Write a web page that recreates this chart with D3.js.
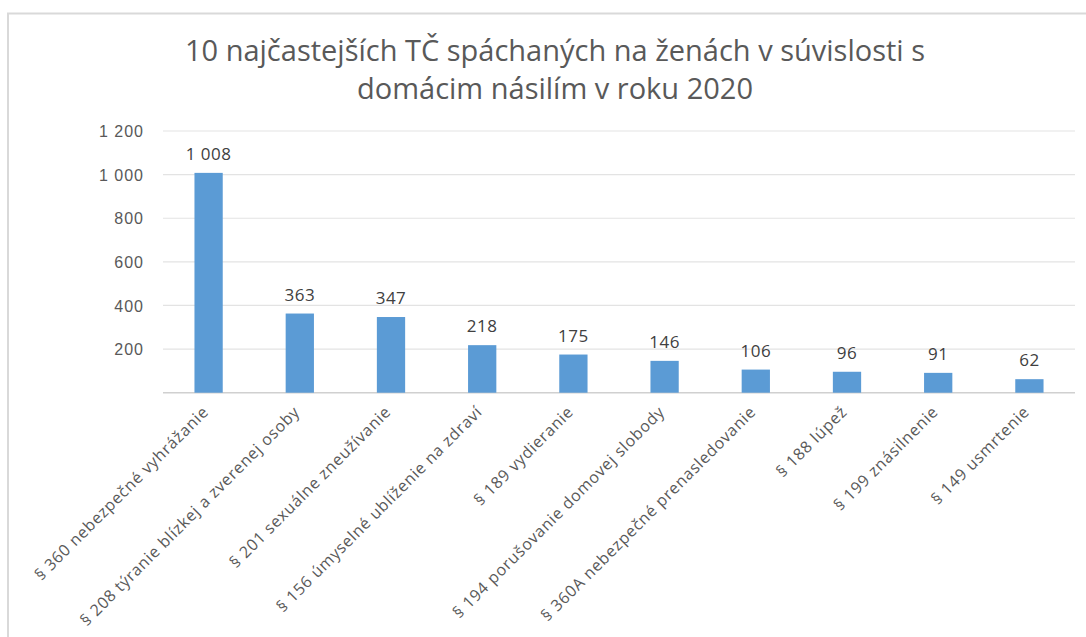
<!DOCTYPE html>
<html><head><meta charset="utf-8">
<script src="https://cdn.jsdelivr.net/npm/d3@7"></script>
<style>
body{margin:0;background:#fff;}
svg{display:block;font-family:"Open Sans","Liberation Sans",sans-serif;}
</style></head>
<body><svg id="c" width="1086" height="637"></svg>
<script>
const categories = ["§ 360 nebezpečné vyhrážanie","§ 208 týranie blízkej a zverenej osoby","§ 201 sexuálne zneužívanie","§ 156 úmyselné ublíženie na zdraví","§ 189 vydieranie","§ 194 porušovanie domovej slobody","§ 360A nebezpečné prenasledovanie","§ 188 lúpež","§ 199 znásilnenie","§ 149 usmrtenie"];
const values = [1008,363,347,218,175,146,106,96,91,62];
const yTicks = [0,200,400,600,800,1000,1200];
const titleLines = ["10 najčastejších TČ spáchaných na ženách v súvislosti s","domácim násilím v roku 2020"];

const svg = d3.select("#c");
const fmt = v => d3.format(",")(v).replace(/,/g," ");

// border
svg.append("path").attr("d","M8,637 L8,13.5 L1086,13.5").attr("fill","none").attr("stroke","#d9d9d9").attr("stroke-width",2);

const x = d3.scaleBand().domain(categories).range([163,1075]).paddingInner(0.69).paddingOuter(0.345);
const y = d3.scaleLinear().domain([0,1200]).range([392.7,131]);

// gridlines
svg.append("g").selectAll("line").data(yTicks).join("line")
  .attr("x1",163).attr("x2",1075).attr("y1",d=>y(d)).attr("y2",d=>y(d))
  .attr("stroke",d=>d===0?"#d0d0d0":"#e3e3e3").attr("stroke-width",d=>d===0?1.5:1.2);

// y axis labels
const yAxis = d3.axisLeft(y).tickValues(yTicks.filter(d=>d>0)).tickFormat(fmt).tickSize(0).tickPadding(0);
const ga = svg.append("g").attr("transform","translate(144,0)").call(yAxis);
ga.select(".domain").remove();
ga.selectAll("text").attr("fill","#595959").attr("font-size","16px").attr("letter-spacing","1px").attr("dy","0.35em");

// bars
svg.append("g").selectAll("rect").data(values).join("rect")
  .attr("x",(d,i)=>x(categories[i])).attr("width",x.bandwidth())
  .attr("y",d=>y(d)).attr("height",d=>y(0)-y(d)).attr("fill","#5b9bd5");

// value labels
svg.append("g").selectAll("text").data(values).join("text")
  .attr("x",(d,i)=>x(categories[i])+x.bandwidth()/2).attr("y",d=>y(d)-13)
  .attr("text-anchor","middle").attr("font-size","17px").attr("letter-spacing","0.5px").attr("fill","#404040").text(fmt);

// category labels
svg.append("g").selectAll("text").data(categories).join("text")
  .attr("transform",d=>`translate(${x(d)+x.bandwidth()/2-3},${409}) rotate(-45)`)
  .attr("text-anchor","end").attr("dy","0.35em").attr("font-size","16px").attr("letter-spacing","0.7px").attr("fill","#595959").text(d=>d);

// title
svg.append("g").selectAll("text").data(titleLines).join("text")
  .attr("x",555).attr("y",(d,i)=>61+i*38).attr("text-anchor","middle")
  .attr("font-size","29px").attr("fill","#595959").text(d=>d);
</script></body></html>
